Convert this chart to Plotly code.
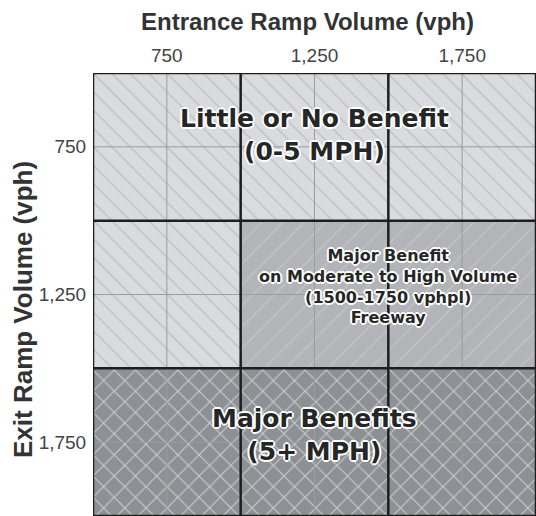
import plotly.graph_objects as go

# ---- data ----
entrance_ticks = [750, 1250, 1750]
exit_ticks = [750, 1250, 1750]
tick_labels = ["750", "1,250", "1,750"]
cell_edges = [500, 1000, 1500, 2000]

# benefit regions (rows of exit volume, spans of entrance volume)
region_exit = [750, 1250, 1250, 1750]
region_start = [500, 500, 1000, 500]
region_end = [2000, 1000, 2000, 2000]
region_kind = ["little", "little", "moderate", "major"]

label_text = [
    "Little or No Benefit<br>(0-5 MPH)",
    "Major Benefit<br>on Moderate to High Volume<br>(1500-1750 vphpl)<br>Freeway",
    "Major Benefits<br>(5+ MPH)",
]
label_x = [1250, 1500, 1250]
label_y = [750, 1250, 1750]
label_size = [25, 16, 25]
label_shift = [12, 8, 7]

styles = {
    "little": dict(bg="#d9dbde", fg="#bcbec2", shape="\\", size=13, solidity=0.1),
    "moderate": dict(bg="#b2b4b8", fg="#c1c3c6", shape="/", size=15, solidity=0.1),
    "major": dict(bg="#8d9094", fg="#cdcfd2", shape="x", size=15, solidity=0.13),
}

fig = go.Figure()
for y, s, e, k in zip(region_exit, region_start, region_end, region_kind):
    st = styles[k]
    fig.add_trace(go.Bar(
        orientation="h", y=[y], x=[e - s], base=[s], width=500,
        marker=dict(color=st["bg"], line=dict(width=0),
                    pattern=dict(shape=st["shape"], bgcolor=st["bg"], fgcolor=st["fg"],
                                 size=st["size"], solidity=st["solidity"], fillmode="replace")),
        showlegend=False, hoverinfo="skip",
    ))

# thin gridlines at tick values (drawn above fills)
for v in entrance_ticks:
    fig.add_vline(x=v, line=dict(color="#9a9c9f", width=1))
for v in exit_ticks:
    fig.add_hline(y=v, line=dict(color="#9a9c9f", width=1))
# thick cell borders
for v in cell_edges:
    fig.add_vline(x=v, line=dict(color="#1e1e1e", width=2.5))
    fig.add_hline(y=v, line=dict(color="#1e1e1e", width=2.5))

halo = "-1px -1px 0 #fff, 1px -1px 0 #fff, -1px 1px 0 #fff, 1px 1px 0 #fff, 0 2px 0 #fff, 0 -2px 0 #fff, 2px 0 0 #fff, -2px 0 0 #fff"
for t, x, y, sz, sh in zip(label_text, label_x, label_y, label_size, label_shift):
    fig.add_annotation(x=x, y=y, text=t, showarrow=False, yshift=sh,
                       font=dict(family="DejaVu Sans", size=sz, color="#262626", weight="bold", shadow=halo))

# axis titles
fig.add_annotation(xref="paper", yref="paper", x=0.485, y=1.0, yshift=52, text="Entrance Ramp Volume (vph)",
                   showarrow=False, font=dict(family="Liberation Sans", size=24, color="#333333", weight="bold"),
                   yanchor="middle")
fig.add_annotation(xref="paper", yref="paper", x=0.0, xshift=-70, y=0.465, text="Exit Ramp Volume (vph)",
                   textangle=-90, showarrow=False, xanchor="center",
                   font=dict(family="Liberation Sans", size=26, color="#333333", weight="bold"))

fig.update_layout(
    width=536, height=516,
    margin=dict(l=93, r=0, t=73, b=0),
    paper_bgcolor="white", plot_bgcolor="white",
    barmode="overlay",
)
fig.update_xaxes(range=[500, 2000], side="top", tickvals=entrance_ticks, ticktext=tick_labels,
                 showgrid=False, zeroline=False, ticks="outside", ticklen=2, tickcolor="rgba(0,0,0,0)",
                 tickfont=dict(family="Liberation Sans", size=19, color="#444444"))
fig.update_yaxes(range=[2000, 500], tickvals=exit_ticks, ticktext=tick_labels,
                 showgrid=False, zeroline=False, ticks="outside", ticklen=2, tickcolor="rgba(0,0,0,0)",
                 tickfont=dict(family="Liberation Sans", size=19, color="#444444"))

fig.write_html("out.html", config={"displayModeBar": False},
               post_script="document.body.style.margin='0';document.body.style.overflow='hidden';")
